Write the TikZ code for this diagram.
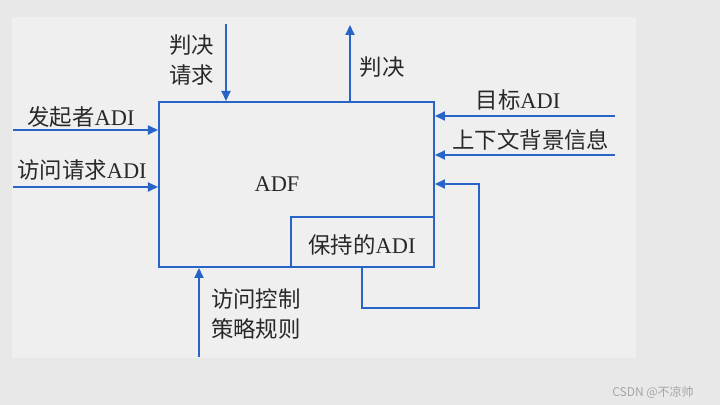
\documentclass[tikz,border=0pt]{standalone}
\usepackage{fontspec}
\setmainfont{Liberation Serif}
\newfontfamily\cjk{Noto Sans CJK SC}
\usetikzlibrary{arrows.meta}
\definecolor{adfblue}{RGB}{40,100,200}
\definecolor{bgout}{RGB}{232,232,232}
\definecolor{bgin}{RGB}{239,239,239}
\definecolor{txtgray}{RGB}{40,40,40}

\begin{document}
\begin{tikzpicture}[x=0.5pt,y=-0.5pt,
    flow/.style={draw=adfblue, line width=1pt, -{Triangle[length=5pt,width=4.5pt]}},
    box/.style={draw=adfblue, line width=1pt, inner sep=0pt},
    lbl/.style={font=\fontsize{11.2}{15}\selectfont, text=txtgray, inner sep=0pt, align=center}]
        % background
        \fill[bgout] (0,0) rectangle (720,405);
        \fill[bgin] (12,17) rectangle (636,358);
        \useasboundingbox (0,0) rectangle (720,405);

        % the decision function and its held information
        \node[box, anchor=north west, minimum width=137.5pt, minimum height=82.5pt] (adf) at (158,101) {};
        \node[lbl] (adflbl) at (277,184) {ADF};
        \node[box, anchor=south east, minimum width=71.5pt, minimum height=25pt] (held) at (adf.south east) {};
        \node[lbl] (heldlbl) at (362,245) {{\cjk 保持的}ADI};

        % inputs and output
        \coordinate (reqdec) at (226,24);
        \coordinate (dec) at (350,25);
        \coordinate (initiator) at (13,130);
        \coordinate (request) at (13,187);
        \coordinate (target) at (615,116);
        \coordinate (context) at (615,155);
        \coordinate (policy) at (199,357);

        \draw[flow] (reqdec) -- (reqdec |- adf.north);
        \draw[flow] (adf.north -| dec) -- (dec);
        \draw[flow] (initiator) -- (initiator -| adf.west);
        \draw[flow] (request) -- (request -| adf.west);
        \draw[flow] (target) -- (target -| adf.east);
        \draw[flow] (context) -- (context -| adf.east);
        \draw[flow] (policy) -- (policy |- adf.south);

        \node[lbl] (reqdeclbl) at (192,60) {\cjk 判决\\\cjk 请求};
        \node[lbl] (declbl) at (382,67) {\cjk 判决};
        \node[lbl] (initlbl) at (81,117) {{\cjk 发起者}ADI};
        \node[lbl] (reqlbl) at (82,170) {{\cjk 访问请求}ADI};
        \node[lbl] (tgtlbl) at (518,100) {{\cjk 目标}ADI};
        \node[lbl] (ctxlbl) at (531,140) {\cjk 上下文背景信息};
        \node[lbl] (pollbl) at (256,314) {\cjk 访问控制\\\cjk 策略规则};

        % held ADI fed back
        \coordinate (loopa) at (362,308);
        \coordinate (loopb) at (479,184);
        \draw[flow] (loopa |- held.south) -- (loopa) -| (loopb) -- (loopb -| adf.east);

        \node[font=\cjk\fontsize{6}{7}\selectfont, text=black!35, inner sep=0pt] (mark) at (653,392) {CSDN @不凉帅};
\end{tikzpicture}
\end{document}
